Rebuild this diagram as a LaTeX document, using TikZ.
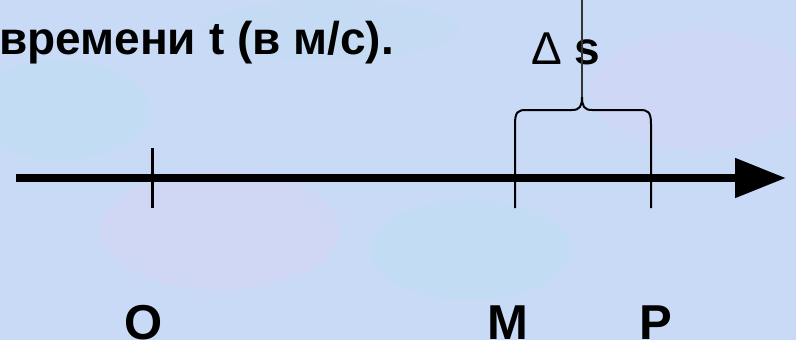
\documentclass[tikz,border=0pt]{standalone}
\usepackage{fontspec}
\setmainfont{Liberation Sans}
\usetikzlibrary{arrows.meta}
\definecolor{bgblue}{RGB}{200,218,245}
\definecolor{bglav}{RGB}{212,214,246}
\definecolor{bgcyan}{RGB}{190,222,242}
\tikzset{
  lbl/.style={inner sep=0pt, anchor=base, font=\fontsize{46}{55}\selectfont\bfseries},
  ptlbl/.style={inner sep=0pt, anchor=base, font=\fontsize{49}{58}\selectfont\bfseries},
  tick/.style={line width=3pt, black},
  brace/.style={line width=2pt, black},
  axis/.style={line width=8pt, black, -{Triangle[length=51pt,width=38pt]}}
}
\begin{document}
\begin{tikzpicture}[x=1pt,y=-1pt]
\useasboundingbox (0,0) rectangle (796,340);
% background
\fill[bgblue] (0,0) rectangle (796,340);
\begin{scope}
\clip (0,0) rectangle (796,340);
\fill[bglav, opacity=0.6] (220,230) ellipse (120 and 60);
\fill[bgcyan, opacity=0.5] (60,110) ellipse (90 and 50);
\fill[bgcyan, opacity=0.5] (470,250) ellipse (100 and 50);
\fill[bglav, opacity=0.5] (700,90) ellipse (110 and 60);
\fill[bgcyan, opacity=0.4] (330,30) ellipse (130 and 30);
\end{scope}
% title text
\node[lbl, anchor=base west] (title) at (-1,54) {времени t (в м/с).};
% delta s
\node[lbl, anchor=base] (ds) at (566,64) {{\mdseries Δ} s};
% axis
\coordinate (start) at (16,178);
\coordinate (tip) at (786,178);
\draw[axis] (start) -- (tip);
% ticks
\coordinate (Otop) at (152,148);
\coordinate (Obot) at (152,208);
\draw[tick] (Otop) -- (Obot);
\coordinate (Mbot) at (515,208);
\coordinate (Pbot) at (651,208);
\coordinate (cusp) at (582,97);
\coordinate (top) at (582,0);
% brace
\draw[brace] (Mbot) -- (515,124) .. controls (515,112) and (518,110) .. (526,110)
  -- (572,110) .. controls (580,110) and (582,106) .. (cusp)
  .. controls (582,106) and (584,110) .. (592,110)
  -- (640,110) .. controls (648,110) and (651,112) .. (651,124) -- (Pbot);
\draw[line width=1.2pt, black!80] (cusp) -- (top);
% labels
\node[ptlbl] (O) at (144,339) {O};
\node[ptlbl] (M) at (508,339) {M};
\node[ptlbl] (P) at (656,339) {P};
\end{tikzpicture}
\end{document}
